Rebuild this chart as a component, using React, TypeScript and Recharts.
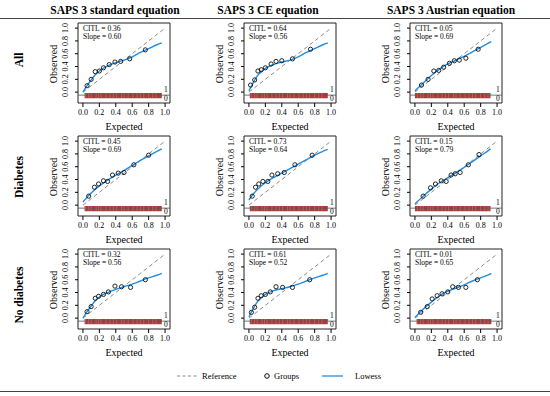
import React from "react";
import { ComposedChart, Line, Scatter, XAxis, YAxis, ReferenceArea, ReferenceLine } from "recharts";

const SERIF = '"Liberation Serif", "Times New Roman", serif';

const MODELS = ["SAPS 3 standard equation", "SAPS 3 CE equation", "SAPS 3 Austrian equation"];
const GROUPS = ["All", "Diabetes", "No diabetes"];
const TICKS = [0, 0.2, 0.4, 0.6, 0.8, 1.0];

const CITL = [
  [0.36, 0.64, 0.05],
  [0.45, 0.73, 0.15],
  [0.32, 0.61, 0.01],
];
const SLOPE = [
  [0.6, 0.56, 0.69],
  [0.69, 0.64, 0.79],
  [0.56, 0.52, 0.65],
];

// grouped observations [expected, observed]
const allStd = [[0.05, 0.1], [0.1, 0.2], [0.15, 0.32], [0.2, 0.33], [0.25, 0.38], [0.32, 0.43], [0.39, 0.47], [0.46, 0.48], [0.57, 0.52], [0.76, 0.66]];
const allCE = [[0.02, 0.11], [0.07, 0.19], [0.11, 0.33], [0.15, 0.35], [0.2, 0.38], [0.27, 0.44], [0.33, 0.48], [0.4, 0.49], [0.53, 0.52], [0.75, 0.67]];
const allAus = [[0.08, 0.11], [0.16, 0.2], [0.23, 0.33], [0.29, 0.34], [0.35, 0.39], [0.42, 0.45], [0.48, 0.49], [0.54, 0.5], [0.62, 0.53], [0.77, 0.67]];
const diabStd = [[0.07, 0.14], [0.14, 0.28], [0.19, 0.33], [0.25, 0.38], [0.3, 0.37], [0.36, 0.47], [0.43, 0.5], [0.5, 0.51], [0.62, 0.63], [0.8, 0.78]];
const diabCE = [[0.04, 0.14], [0.08, 0.28], [0.12, 0.33], [0.17, 0.37], [0.23, 0.37], [0.28, 0.47], [0.35, 0.49], [0.43, 0.51], [0.56, 0.63], [0.77, 0.78]];
const diabAus = [[0.1, 0.14], [0.19, 0.27], [0.25, 0.33], [0.32, 0.38], [0.38, 0.37], [0.44, 0.47], [0.49, 0.49], [0.55, 0.51], [0.65, 0.63], [0.78, 0.79]];
const noStd = [[0.05, 0.1], [0.1, 0.18], [0.15, 0.31], [0.19, 0.34], [0.25, 0.37], [0.31, 0.41], [0.39, 0.5], [0.47, 0.49], [0.58, 0.48], [0.76, 0.6]];
const noCE = [[0.03, 0.09], [0.07, 0.17], [0.11, 0.31], [0.15, 0.35], [0.2, 0.37], [0.26, 0.41], [0.33, 0.49], [0.41, 0.48], [0.53, 0.48], [0.74, 0.6]];
const noAus = [[0.07, 0.09], [0.15, 0.18], [0.21, 0.3], [0.27, 0.35], [0.33, 0.38], [0.4, 0.41], [0.46, 0.49], [0.53, 0.48], [0.62, 0.48], [0.76, 0.6]];

// lowess curves
const allStdLowess = [[0, 0], [0.05, 0.1], [0.1, 0.19], [0.15, 0.27], [0.2, 0.33], [0.3, 0.41], [0.4, 0.46], [0.5, 0.5], [0.6, 0.55], [0.7, 0.62], [0.8, 0.68], [0.9, 0.74], [0.96, 0.77]];
const allCELowess = [[0, 0.02], [0.05, 0.14], [0.1, 0.25], [0.15, 0.32], [0.2, 0.37], [0.3, 0.43], [0.4, 0.47], [0.5, 0.5], [0.6, 0.55], [0.7, 0.62], [0.8, 0.68], [0.9, 0.74], [0.96, 0.77]];
const allAusLowess = [[0, 0.02], [0.1, 0.14], [0.2, 0.26], [0.3, 0.36], [0.4, 0.44], [0.5, 0.5], [0.6, 0.56], [0.7, 0.63], [0.8, 0.7], [0.9, 0.77], [0.93, 0.79]];
const diabStdLowess = [[0, 0.05], [0.1, 0.19], [0.2, 0.3], [0.3, 0.39], [0.4, 0.47], [0.5, 0.54], [0.6, 0.62], [0.7, 0.7], [0.8, 0.77], [0.9, 0.84], [0.96, 0.88]];
const diabCELowess = [[0, 0.08], [0.05, 0.17], [0.1, 0.24], [0.2, 0.35], [0.3, 0.43], [0.4, 0.5], [0.5, 0.57], [0.6, 0.64], [0.7, 0.71], [0.8, 0.78], [0.9, 0.84], [0.96, 0.87]];
const diabAusLowess = [[0, 0.02], [0.1, 0.14], [0.2, 0.25], [0.3, 0.35], [0.4, 0.43], [0.5, 0.51], [0.6, 0.59], [0.7, 0.68], [0.8, 0.77], [0.9, 0.86], [0.92, 0.88]];
const noStdLowess = [[0, 0], [0.05, 0.1], [0.1, 0.19], [0.15, 0.27], [0.2, 0.33], [0.3, 0.4], [0.4, 0.45], [0.5, 0.49], [0.6, 0.53], [0.7, 0.58], [0.8, 0.63], [0.9, 0.67], [0.96, 0.7]];
const noCELowess = [[0, 0.02], [0.05, 0.14], [0.1, 0.25], [0.15, 0.32], [0.2, 0.37], [0.3, 0.43], [0.4, 0.46], [0.5, 0.49], [0.6, 0.53], [0.7, 0.58], [0.8, 0.63], [0.9, 0.67], [0.96, 0.7]];
const noAusLowess = [[0, 0.01], [0.1, 0.14], [0.2, 0.25], [0.3, 0.35], [0.4, 0.42], [0.5, 0.47], [0.6, 0.52], [0.7, 0.58], [0.8, 0.63], [0.9, 0.68], [0.93, 0.7]];

const POINTS = [
  [allStd, allCE, allAus],
  [diabStd, diabCE, diabAus],
  [noStd, noCE, noAus],
];
const LOWESS = [
  [allStdLowess, allCELowess, allAusLowess],
  [diabStdLowess, diabCELowess, diabAusLowess],
  [noStdLowess, noCELowess, noAusLowess],
];
// range of predicted risks in the rug
const RUG_RANGE = [
  [[0.02, 0.96], [0.01, 0.96], [0.0, 0.92]],
  [[0.02, 0.96], [0.01, 0.96], [0.0, 0.92]],
  [[0.02, 0.96], [0.01, 0.96], [0.02, 0.93]],
];
const RUG_MARKS = [0.03, 0.07, 0.1, 0.16, 0.19, 0.22, 0.28, 0.33, 0.37, 0.41, 0.47, 0.5, 0.55, 0.61, 0.66, 0.7, 0.74, 0.8, 0.85, 0.89];
const DIAGONAL = [{ x: 0, y: 0 }, { x: 1, y: 1 }];

const COL_X = [78, 244, 410];
const ROW_Y = [23, 136, 249];
const BOX_W = 92;
const BOX_H = 80;
const Y_AXIS_W = 30;
const X_AXIS_H = 30;
const X_DOMAIN = [-0.06, 1.06];
const Y_DOMAIN = [-0.17, 1.08];
const BLUE = "#1f8fe6";
const RUG_RED = "#a83232";

const toXY = (arr: number[][]) => arr.map(([x, y]) => ({ x, y }));

function YTick(props: any) {
  const { y, payload } = props;
  const bx = 20;
  return (
    <text x={bx} y={y} transform={`rotate(-90 ${bx} ${y})`} textAnchor="middle" fontSize={8} fontFamily={SERIF} fill="#000">
      {Number(payload.value).toFixed(1)}
    </text>
  );
}

function Circle(props: any) {
  const { cx, cy } = props;
  return <circle cx={cx} cy={cy} r={2.1} fill="none" stroke="#111" strokeWidth={0.9} />;
}

function RugTick(props: any) {
  const { cx, cy } = props;
  return <line x1={cx} x2={cx} y1={cy - 2.5} y2={cy + 2.5} stroke="#c98080" strokeWidth={0.7} strokeOpacity={0.7} />;
}

function Rotated({ text, cx, cy, size, bold }: { text: string; cx: number; cy: number; size: number; bold?: boolean }) {
  return (
    <div
      style={{
        position: "absolute",
        left: cx - 50,
        top: cy - 7,
        width: 100,
        height: 14,
        lineHeight: "14px",
        textAlign: "center",
        fontSize: size,
        fontWeight: bold ? "bold" : "normal",
        transform: "rotate(-90deg)",
        whiteSpace: "nowrap",
      }}
    >
      {text}
    </div>
  );
}

function Panel({ row, col }: { row: number; col: number }) {
  const bx = COL_X[col];
  const by = ROW_Y[row];
  const [rugMin, rugMax] = RUG_RANGE[row][col];
  const rugData = RUG_MARKS.filter((m) => m > rugMin && m < rugMax).map((x) => ({ x, y: -0.052 }));
  return (
    <>
      <div style={{ position: "absolute", left: bx - Y_AXIS_W, top: by - 2 }}>
        <ComposedChart
          width={Y_AXIS_W + BOX_W + 4}
          height={2 + BOX_H + X_AXIS_H}
          margin={{ top: 2, right: 4, bottom: 0, left: 0 }}
        >
          <XAxis
            dataKey="x"
            type="number"
            domain={X_DOMAIN}
            ticks={TICKS}
            interval={0}
            allowDataOverflow
            height={X_AXIS_H}
            axisLine={false}
            tickSize={4}
            tickMargin={2}
            tickLine={{ stroke: "#000" }}
            tick={{ fontSize: 8, fill: "#000", fontFamily: SERIF }}
            tickFormatter={(v: number) => v.toFixed(1)}
            label={{ value: "Expected", position: "insideBottom", offset: 3, style: { fontSize: 10, fill: "#000", fontFamily: SERIF } }}
          />
          <YAxis
            dataKey="y"
            type="number"
            domain={Y_DOMAIN}
            ticks={TICKS}
            interval={0}
            allowDataOverflow
            width={Y_AXIS_W}
            axisLine={false}
            tickSize={3}
            tickLine={{ stroke: "#000" }}
            tick={<YTick />}
          />
          <ReferenceArea x1={rugMin} x2={rugMax} y1={-0.095} y2={-0.012} fill={RUG_RED} fillOpacity={0.95} stroke="none" ifOverflow="visible" />
          <Scatter data={rugData} dataKey="y" shape={<RugTick />} isAnimationActive={false} />
          <ReferenceLine y={-0.047} stroke="#555" strokeWidth={0.8} ifOverflow="visible" />
          <Line data={DIAGONAL} dataKey="y" stroke="#8a8a8a" strokeWidth={1} strokeDasharray="4 3" dot={false} isAnimationActive={false} />
          <Line data={toXY(LOWESS[row][col])} dataKey="y" type="monotone" stroke={BLUE} strokeWidth={1.4} dot={false} isAnimationActive={false} />
          <Scatter data={toXY(POINTS[row][col])} dataKey="y" shape={<Circle />} isAnimationActive={false} />
          <ReferenceArea x1={X_DOMAIN[0]} x2={X_DOMAIN[1]} y1={Y_DOMAIN[0]} y2={Y_DOMAIN[1]} fill="none" stroke="#222" strokeWidth={1} ifOverflow="visible" />
        </ComposedChart>
      </div>
      <div style={{ position: "absolute", left: bx + 5, top: by + 1.5, fontSize: 7.5, lineHeight: "8.5px", whiteSpace: "nowrap" }}>
        <div>CITL = {CITL[row][col].toFixed(2)}</div>
        <div>Slope = {SLOPE[row][col].toFixed(2)}</div>
      </div>
      <div style={{ position: "absolute", left: bx + 86, top: by + 63, fontSize: 7.5, lineHeight: "8px" }}>1</div>
      <div style={{ position: "absolute", left: bx + 86, top: by + 72, fontSize: 7.5, lineHeight: "8px" }}>0</div>
      <Rotated text="Observed" cx={bx - 24} cy={by + 41} size={10} />
    </>
  );
}

const TITLE_X = [115, 268, 451];
const LABEL_Y = [60, 177, 295];

export default function App() {
  return (
    <div style={{ position: "absolute", left: 0, top: 0, width: 550, height: 396, background: "#fff", fontFamily: SERIF, color: "#000", overflow: "hidden" }}>
      {MODELS.map((m, i) => (
        <div key={m} style={{ position: "absolute", left: TITLE_X[i] - 80, top: 3, width: 160, textAlign: "center", fontSize: 11.5, fontWeight: "bold", lineHeight: "14px" }}>
          {m}
        </div>
      ))}
      <div style={{ position: "absolute", left: 0, top: 18, width: 550, height: 1, background: "#444" }} />
      {GROUPS.map((g, i) => (
        <Rotated key={g} text={g} cx={19} cy={LABEL_Y[i]} size={11.5} bold />
      ))}
      {GROUPS.map((_, r) => MODELS.map((_, c) => <Panel key={`${r}-${c}`} row={r} col={c} />))}
      <svg style={{ position: "absolute", left: 0, top: 368 }} width={550} height={16}>
        <line x1={177} x2={197} y1={8} y2={8} stroke="#8a8a8a" strokeWidth={1} strokeDasharray="3 2.5" />
        <text x={202} y={11} fontSize={8.5} fontFamily={SERIF} fill="#000">Reference</text>
        <circle cx={267} cy={8} r={2.3} fill="none" stroke="#111" strokeWidth={1} />
        <text x={274} y={11} fontSize={8.5} fontFamily={SERIF} fill="#000">Groups</text>
        <line x1={322} x2={343} y1={8} y2={8} stroke={BLUE} strokeWidth={1.3} />
        <text x={355} y={11} fontSize={8.5} fontFamily={SERIF} fill="#000">Lowess</text>
      </svg>
      <div style={{ position: "absolute", left: 0, top: 391, width: 550, height: 1, background: "#444" }} />
    </div>
  );
}
